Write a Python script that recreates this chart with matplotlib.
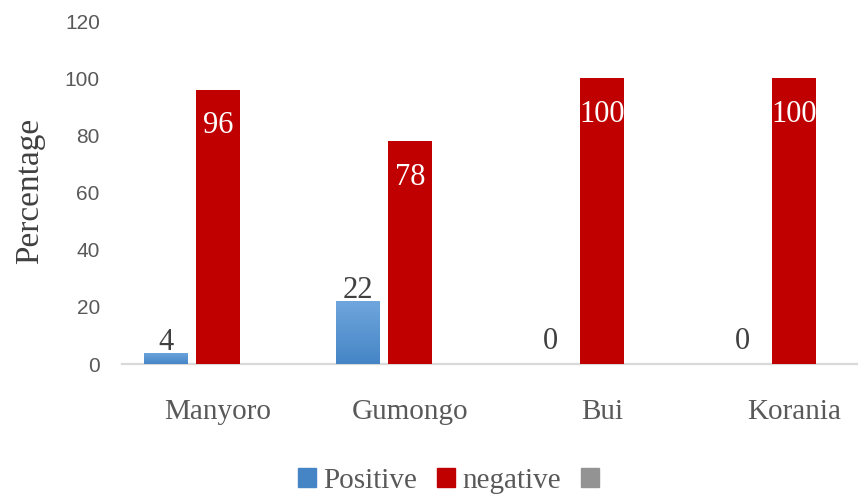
import numpy as np
import matplotlib
matplotlib.use("Agg")
import matplotlib.pyplot as plt
from matplotlib.patches import Patch
import matplotlib.patheffects as pe

# data
sites = ["Manyoro", "Gumongo", "Bui", "Korania"]
positive = [4, 22, 0, 0]
negative = [96, 78, 100, 100]
other = [0, 0, 0, 0]          # third (unnamed) series, all zero
series_labels = ["Positive", "negative", ""]
yticks = [0, 20, 40, 60, 80, 100, 120]

blue_top = "#6fa6dd"
blue_bot = "#4585c6"
red = "#c00000"
grey = "#939393"
text_grey = "#595959"
label_grey = "#404040"
serif = ["Liberation Serif", "DejaVu Serif"]

fig = plt.figure(figsize=(8.58, 4.96), dpi=100)
ax = fig.add_axes([0.1422, 0.2661, 0.8578, 0.6915])

x = np.arange(len(sites))
w = 0.229
step = 0.271
shadow = [pe.SimplePatchShadow(offset=(0, 0), shadow_rgbFace="#000000", alpha=0.18), pe.Normal()]

pos_bars = ax.bar(x - step, positive, w, color=blue_bot, zorder=2)
neg_bars = ax.bar(x, negative, w, color=red, zorder=2)
oth_bars = ax.bar(x + step, other, w, color=grey, zorder=2)

# vertical gradient on the blue bars
grad = np.linspace(0, 1, 256).reshape(-1, 1)
cmap = matplotlib.colors.LinearSegmentedColormap.from_list("b", [blue_bot, blue_top])
for b in pos_bars:
    if b.get_height() <= 0:
        continue
    x0, y0 = b.get_x(), b.get_y()
    im = ax.imshow(grad, cmap=cmap, origin="lower", aspect="auto",
                   extent=[x0, x0 + b.get_width(), y0, y0 + b.get_height()], zorder=2.1)
    im.set_clip_path(b)

for b in list(pos_bars) + list(neg_bars):
    if b.get_height() > 0:
        b.set_path_effects(shadow)

# data labels
for b, v in zip(pos_bars, positive):
    off = 2 if v > 0 else 11
    ax.annotate(str(v), (b.get_x() + b.get_width() / 2, v), xytext=(0, off),
                textcoords="offset points", ha="center", va="baseline",
                fontsize=22, family=serif, color=label_grey, zorder=4)
for b, v in zip(neg_bars, negative):
    ax.annotate(str(v), (b.get_x() + b.get_width() / 2, v), xytext=(0, -15.5),
                textcoords="offset points", ha="center", va="top",
                fontsize=22, family=serif, color="white", zorder=4)

ax.set_xlim(-0.5, 3.333)
ax.set_ylim(0, 120)
ax.set_yticks(yticks)
ax.set_yticklabels([str(t) for t in yticks], fontsize=15, family="Liberation Sans", color=text_grey)
ax.set_xticks(x)
ax.set_xticklabels(sites, fontsize=21, family=serif, color=text_grey)
ax.tick_params(axis="y", length=0, pad=16)
ax.tick_params(axis="x", length=0, pad=25)

for s in ["top", "right", "left"]:
    ax.spines[s].set_visible(False)
ax.spines["bottom"].set_color("#d9d9d9")
ax.spines["bottom"].set_linewidth(1.6)
ax.spines["bottom"].set_zorder(1)

fig.text(0.035, 0.615, "Percentage", rotation=90, ha="center", va="center",
         fontsize=24, family=serif, color=label_grey)

handles = [Patch(color=blue_bot), Patch(color=red), Patch(color=grey)]
fig.legend(handles, series_labels, loc="center", bbox_to_anchor=(0.527, 0.031),
           ncol=3, frameon=False, handlelength=0.6, handleheight=0.6,
           handletextpad=0.25, columnspacing=0.7,
           prop={"family": serif, "size": 21}, labelcolor=text_grey)

fig.savefig("out.png", dpi=100)
